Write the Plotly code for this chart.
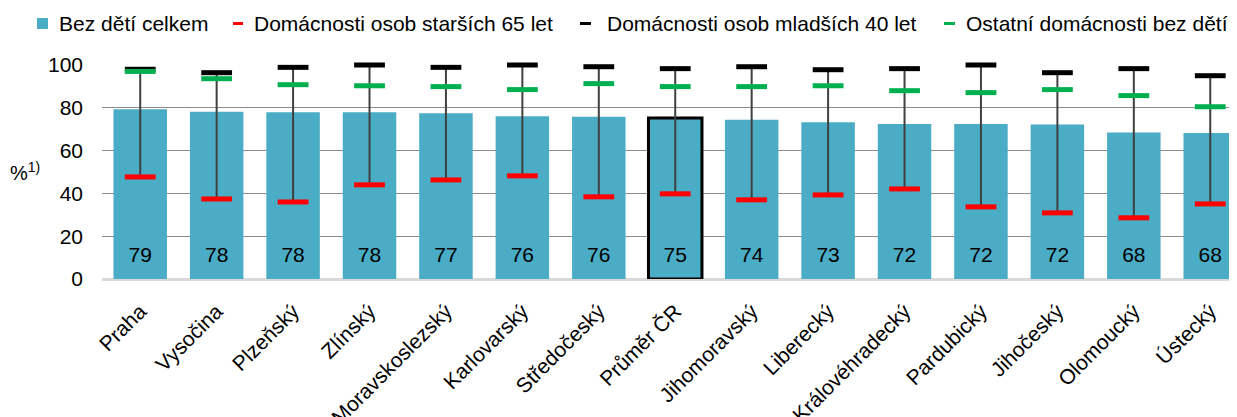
import plotly.graph_objects as go

regions = ["Praha", "Vysočina", "Plzeňský", "Zlínský", "Moravskoslezský", "Karlovarský",
           "Středočeský", "Průměr ČR", "Jihomoravský", "Liberecký", "Královéhradecký",
           "Pardubický", "Jihočeský", "Olomoucký", "Ústecký"]
total = [79.3, 78.2, 77.9, 77.9, 77.4, 76.0, 75.8, 75.2, 74.4, 73.3, 72.4, 72.4, 72.2, 68.4, 68.2]
older65 = [47.7, 37.4, 36.0, 44.0, 46.3, 48.2, 38.4, 39.8, 37.0, 39.3, 42.1, 33.7, 30.9, 28.6, 35.1]
younger40 = [98.0, 96.4, 98.9, 100.0, 98.9, 100.0, 99.2, 98.3, 99.2, 97.8, 98.3, 100.0, 96.4, 98.3, 95.0]
other = [97.0, 93.6, 90.8, 90.3, 89.9, 88.5, 91.3, 89.9, 89.9, 90.3, 88.0, 87.1, 88.5, 85.7, 80.5]
y_ticks = [0, 20, 40, 60, 80, 100]
highlight = "Průměr ČR"

names = ["Bez dětí celkem", "Domácnosti osob starších 65 let",
         "Domácnosti osob mladších 40 let", "Ostatní domácnosti bez dětí"]
BAR = "#4BACC6"
RED = "#FF0000"
BLACK = "#000000"
GREEN = "#00B050"
FONT = "Liberation Sans, Arial, sans-serif"

OFF = 8  # page body offset of the figure in the browser window
W, H = 1237 - OFF, 417 - OFF
ML, MT = 102 - OFF, 65 - OFF
MR = 0
PLOT_BOTTOM = 279 - OFF
MB = H - PLOT_BOTTOM
PW, PH = W - ML - MR, H - MT - MB


def px2x(px):
    return (px - OFF - ML) / PW


def py2y(py):
    return (PLOT_BOTTOM - (py - OFF)) / PH


lo = [min(a, b, c) for a, b, c in zip(older65, younger40, other)]
hi = [max(a, b, c) for a, b, c in zip(older65, younger40, other)]

fig = go.Figure()
fig.add_trace(go.Bar(
    x=regions, y=total, name=names[0], width=0.7,
    marker=dict(color=BAR,
                line=dict(color="black", width=[3 if r == highlight else 0 for r in regions])),
    showlegend=False, hoverinfo="x+y",
))
# value labels near the bar base
fig.add_trace(go.Scatter(
    x=regions, y=[10.4] * len(regions), mode="text",
    text=[f"{v:.0f}" for v in total], textposition="middle center",
    textfont=dict(size=21, color="black", family=FONT),
    showlegend=False, hoverinfo="skip",
))
# whiskers
fig.add_trace(go.Scatter(
    x=regions, y=lo, mode="markers", marker=dict(size=1, color="rgba(0,0,0,0)"),
    error_y=dict(type="data", symmetric=False, array=[h - l for h, l in zip(hi, lo)],
                 arrayminus=[0] * len(lo), color="#404040", thickness=2, width=0),
    showlegend=False, hoverinfo="skip",
))
for vals, col, nm in [(older65, RED, names[1]), (younger40, BLACK, names[2]), (other, GREEN, names[3])]:
    fig.add_trace(go.Scatter(
        x=regions, y=vals, mode="markers", name=nm, showlegend=False, cliponaxis=False,
        marker=dict(symbol="line-ew", size=22, line=dict(color=col, width=5)),
    ))

# manual legend
legend_y = py2y(23.5)
fig.add_shape(type="rect", xref="paper", yref="paper",
              x0=px2x(37), x1=px2x(48), y0=py2y(29), y1=py2y(18),
              fillcolor=BAR, line=dict(width=0))
for (x0, x1), col in [((233, 243), RED), ((580, 591), BLACK), ((944, 955), GREEN)]:
    fig.add_shape(type="line", xref="paper", yref="paper",
                  x0=px2x(x0), x1=px2x(x1), y0=legend_y, y1=legend_y,
                  line=dict(color=col, width=3))
for nm, tx in zip(names, [59, 254, 607, 966]):
    fig.add_annotation(text=nm, xref="paper", yref="paper", x=px2x(tx - 2), y=legend_y,
                       xanchor="left", yanchor="middle", showarrow=False,
                       font=dict(size=21, color="black", family=FONT))

fig.add_annotation(text="%<sup>1)</sup>", xref="paper", yref="paper",
                   x=px2x(8), y=py2y(171), xanchor="left", yanchor="middle", showarrow=False,
                   font=dict(size=20, color="black", family=FONT))

fig.update_layout(
    width=W, height=H,
    margin=dict(l=ML, r=MR, t=MT, b=MB, autoexpand=False),
    plot_bgcolor="white", paper_bgcolor="white",
    font=dict(family=FONT, size=21, color="black"),
    showlegend=False,
)
fig.update_xaxes(range=[-0.5, 14.35], tickangle=-45, automargin=False,
                 tickfont=dict(size=21, family=FONT, color="black"),
                 showgrid=False, showline=False, ticks="", ticklabelstandoff=15)
fig.update_yaxes(range=[0, 100], tickvals=y_ticks, automargin=False,
                 tickfont=dict(size=21, family=FONT, color="black"),
                 showgrid=True, gridcolor="#8c8c8c", gridwidth=1.3,
                 zeroline=True, zerolinecolor="#d9d9d9", zerolinewidth=3,
                 ticks="", ticklabelstandoff=18)

fig.write_html("out.html")
